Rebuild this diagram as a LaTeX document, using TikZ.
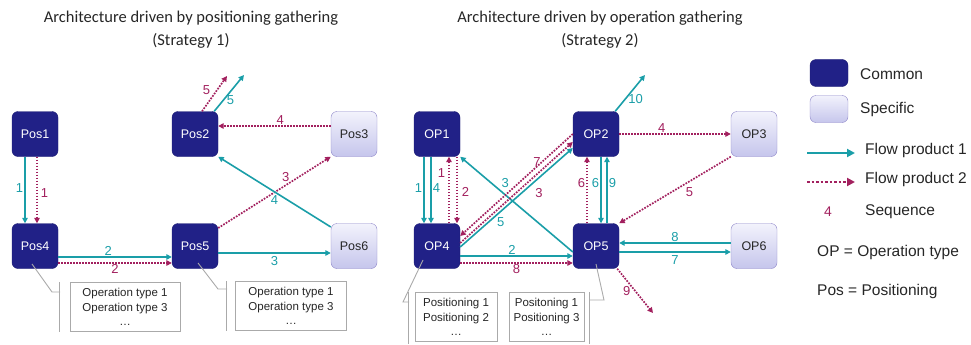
\documentclass[tikz,border=0pt]{standalone}
\usepackage{fontspec}
\setmainfont{Liberation Sans}
\newfontfamily\titlefont{Carlito}
\usetikzlibrary{arrows.meta}

\definecolor{navy}{RGB}{33,33,135}
\definecolor{lilac}{RGB}{140,132,200}
\definecolor{lilactop}{RGB}{242,242,252}
\definecolor{lilacbot}{RGB}{198,198,236}
\definecolor{teal1}{RGB}{26,158,168}
\definecolor{plum}{RGB}{162,32,94}
\definecolor{notegray}{RGB}{170,170,170}

\begin{document}
\begin{tikzpicture}[x=1pt, y=-1pt]
	\tikzstyle{every node}=[align=center, inner sep=1pt]
	\tikzstyle{common}=[draw=navy!85!black, fill=navy, rounded corners=6pt, minimum width=46pt, minimum height=45pt, text=white, font=\fontsize{12.5}{14}\selectfont]
	\tikzstyle{specific}=[draw=lilac, top color=lilactop, bottom color=lilacbot, rounded corners=6pt, minimum width=46pt, minimum height=45pt, text=black!85, font=\fontsize{12.5}{14}\selectfont]
	\tikzstyle{flowone}=[teal1, line width=1.6pt, -{Triangle[length=5.5pt, width=5.5pt]}]
	\tikzstyle{flowtwo}=[plum, line width=1.7pt, dash pattern=on 1.7pt off 1.3pt, -{Triangle[length=5.5pt, width=5.5pt]}]
	\tikzstyle{lblone}=[text=teal1, font=\fontsize{13}{14}\selectfont]
	\tikzstyle{lbltwo}=[text=plum, font=\fontsize{13}{14}\selectfont]
	\tikzstyle{note}=[draw=notegray, fill=white, minimum height=49pt, text=black!85, font=\fontsize{11.5}{14.5}\selectfont]
	\tikzstyle{callout}=[notegray, line width=0.9pt]
	\tikzstyle{key}=[anchor=west, text=black!85, font=\fontsize{15.5}{17}\selectfont]
	\tikzstyle{title}=[text=black!85, font=\titlefont\fontsize{16.5}{23}\selectfont]

	\useasboundingbox (0,0) rectangle (971,345);

	% titles
	\node[title] (tone) at (191,30) {Architecture driven by positioning gathering\\(Strategy 1)};
	\node[title] (ttwo) at (600,30) {Architecture driven by operation gathering\\(Strategy 2)};

	% strategy 1
	\node[common] (pos1) at (35,134) {Pos1};
	\node[common] (pos2) at (195,134) {Pos2};
	\node[specific] (pos3) at (354,134) {Pos3};
	\node[common] (pos4) at (35,246) {Pos4};
	\node[common] (pos5) at (195,246) {Pos5};
	\node[specific] (pos6) at (354,246) {Pos6};
	\coordinate (pout1) at (244,75);
	\coordinate (pout2) at (227,76);

	\draw[flowone] ([xshift=-10pt]pos1.south) -- node[lblone, left, pos=.47] {1} ([xshift=-10pt]pos4.north);
	\draw[flowtwo] ([xshift=2pt]pos1.south) -- node[lbltwo, right=2pt, pos=.55] {1} ([xshift=2pt]pos4.north);
	\draw[flowone] ([yshift=-11pt]pos4.east) -- node[lblone, above, pos=.44] {2} ([yshift=-11pt]pos5.west);
	\draw[flowtwo] ([yshift=-17pt]pos4.east) -- node[lbltwo, below, pos=.5] {2} ([yshift=-17pt]pos5.west);
	\draw[flowone] ([yshift=-7pt]pos5.east) -- node[lblone, below=2pt] {3} ([yshift=-7pt]pos6.west);
	\draw[flowtwo] ([yshift=18pt]pos5.east) -- node[lbltwo, above=2pt, pos=.6] {3} (pos3.south west);
	\draw[flowone] ([yshift=19pt]pos6.west) -- node[lblone, below=2pt, pos=.5] {4} (pos2.south east);
	\draw[flowtwo] ([yshift=8pt]pos3.west) -- node[lbltwo, above, pos=.45] {4} ([yshift=8pt]pos2.east);
	\draw[flowone] ([xshift=-4pt]pos2.north east) -- node[lblone, right=2pt, pos=.3] {5} (pout1);
	\draw[flowtwo] ([xshift=7pt]pos2.north) -- node[lbltwo, left=5pt, pos=.6] {5} (pout2);

	\node[note, minimum width=110pt] (ot4) at (125,307) {Operation type 1\\Operation type 3\\\dots};
	\node[note, minimum width=111pt] (ot5) at (291,306) {Operation type 1\\Operation type 3\\\dots};
	\draw[callout] ([shift={(-3pt,-18pt)}]pos4.center) -- ++(20,28) -- ++(8,0);
	\draw[callout] ([xshift=-10pt]ot4.north west) -- ([xshift=-10pt]ot4.south west);
	\draw[callout] ([shift={(3pt,-17pt)}]pos5.center) -- ++(20,26) -- ++(9,0);
	\draw[callout] ([xshift=-9pt]ot5.north west) -- ([xshift=-9pt]ot5.south west);

	% strategy 2
	\node[common] (op1) at (437,134) {OP1};
	\node[common] (op2) at (596,134) {OP2};
	\node[specific] (op3) at (754,134) {OP3};
	\node[common] (op4) at (437,246) {OP4};
	\node[common] (op5) at (596,246) {OP5};
	\node[specific] (op6) at (754,246) {OP6};
	\coordinate (oout1) at (645,75);
	\coordinate (oout2) at (653,313);

	\draw[flowone] ([xshift=-13pt]op1.south) -- node[lblone, left, pos=.47] {1} ([xshift=-13pt]op4.north);
	\draw[flowone] ([xshift=-6pt]op1.south) -- node[lblone, right, pos=.47] {4} ([xshift=-6pt]op4.north);
	\draw[flowtwo] ([xshift=12pt]op4.north) -- node[lbltwo, left=2pt, pos=.75] {1} ([xshift=12pt]op1.south);
	\draw[flowtwo] ([xshift=20pt]op1.south) -- node[lbltwo, right=3pt, pos=.53] {2} ([xshift=20pt]op4.north);
	\draw[flowone] ([yshift=-10pt]op4.east) -- node[lblone, above, pos=.46] {2} ([yshift=-10pt]op5.west);
	\draw[flowtwo] ([yshift=-17pt]op4.east) -- node[lbltwo, below, pos=.5] {8} ([yshift=-17pt]op5.west);
	\draw[flowone] ([yshift=-6pt]op5.west) -- node[lblone, above=5pt, pos=.6] {3} (op1.south east);
	\draw[flowone] ([yshift=-1pt]op4.east) -- node[lblone, below=4pt, pos=.36] {5} ([yshift=-14pt]op2.west);
	\draw[flowtwo] (op2.west) -- node[lbltwo, left, pos=.27] {7} ([yshift=10pt]op4.east);
	\draw[flowtwo] ([yshift=3pt]op4.east) -- node[lbltwo, below=14pt, pos=.7] {3} ([yshift=-8pt]op2.west);
	\draw[flowtwo] (op2.east) -- node[lbltwo, above, pos=.38] {4} (op3.west);
	\draw[flowtwo] (op3.south west) -- node[lbltwo, below=4pt, pos=.37] {5} (op5.north east);
	\draw[flowtwo] ([xshift=-9pt]op5.north) -- node[lbltwo, left, pos=.6] {6} ([xshift=-9pt]op2.south);
	\draw[flowone] ([xshift=5pt]op2.south) -- node[lblone, left, pos=.4] {6} ([xshift=5pt]op5.north);
	\draw[flowone] ([xshift=11pt]op5.north) -- node[lblone, right, pos=.6] {9} ([xshift=11pt]op2.south);
	\draw[flowone] ([yshift=3pt]op6.west) -- node[lblone, above] {8} ([yshift=3pt]op5.east);
	\draw[flowone] ([yshift=-6pt]op5.east) -- node[lblone, below=2pt] {7} ([yshift=-6pt]op6.west);
	\draw[flowone] ([xshift=-4pt]op2.north east) -- node[lblone, right=1pt, pos=.35] {10} (oout1);
	\draw[flowtwo] ([xshift=-2pt]op5.south east) -- node[lbltwo, left=3pt, pos=.5] {9} (oout2);

	\node[note, minimum width=82pt] (pc4) at (456,317) {Positioning 1\\Positioning 2\\\dots};
	\node[note, minimum width=75pt] (pc5) at (546.5,317) {Positoning 1\\Positioning 3\\\dots};
	\draw[callout] ([shift={(-14pt,-14pt)}]op4.center) -- ++(-20,42) -- ++(6,0);
	\draw[callout] ([xshift=-6pt]pc4.north west) -- ++(0,52);
	\draw[callout] ([yshift=-18pt]op5.center) -- ++(8,36) -- ++(-15,0);
	\draw[callout] ([xshift=5pt]pc5.north east) -- ++(0,52);

	% legend
	\node[common, minimum width=38pt, minimum height=27pt] (kcommon) at (829,73) {};
	\node[specific, minimum width=38pt, minimum height=27pt] (kspecific) at (829,109) {};
	\node[key] (tcommon) at (859,74) {Common};
	\node[key] (tspecific) at (859,109) {Specific};
	\coordinate (kaa) at (807,153);
	\coordinate (kab) at (855,153);
	\coordinate (kba) at (807,182);
	\coordinate (kbb) at (855,182);
	\draw[flowone, line width=2.5pt, -{Triangle[length=8pt, width=8pt]}] (kaa) -- (kab);
	\draw[flowtwo, line width=2.5pt, dash pattern=on 2.5pt off 2pt, -{Triangle[length=8pt, width=8pt]}] (kba) -- (kbb);
	\node[key] (tflowa) at (864,150) {Flow product 1};
	\node[key] (tflowb) at (864,179) {Flow product 2};
	\node[lbltwo, font=\fontsize{14}{16}\selectfont] (kseq) at (828,212) {4};
	\node[key] (tseq) at (864,212) {Sequence};
	\node[key] (top) at (816,252) {OP = Operation type};
	\node[key] (tpos) at (816,291) {Pos = Positioning};
\end{tikzpicture}
\end{document}
